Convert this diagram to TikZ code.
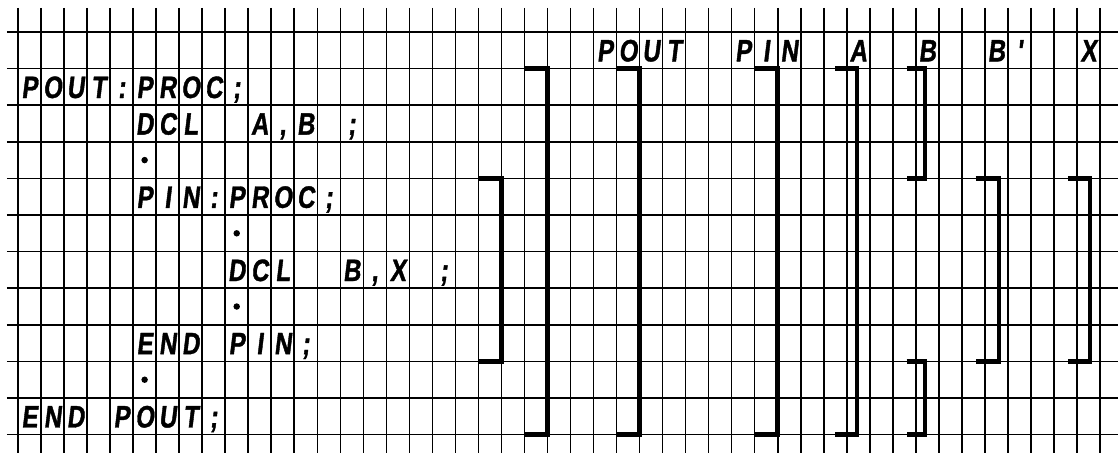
\documentclass[tikz,border=0pt]{standalone}
\usepackage{fontspec}
\newfontfamily\handfont{Liberation Sans}[FakeStretch=0.78,FakeSlant=0.12,FakeBold=1.2]
\begin{document}
\begin{tikzpicture}[x=0.5755cm,y=-0.915cm,
    gridline/.style={line width=1.1pt},
    blockbar/.style={line width=3.8pt},
    varbar/.style={line width=3.1pt},
    chr/.style={font=\handfont\bfseries\fontsize{22}{22}\selectfont,
      inner sep=0pt, text height=15.8pt, text depth=0pt},
    dotmark/.style={circle, fill, inner sep=0pt, minimum size=4.6pt}]
  \useasboundingbox (-0.782,-0.874) rectangle (47.78,11.503);

  % 网格
  \foreach \i in {0,...,47}
    \draw[gridline] (\i,-0.656) -- (\i,11.503);
  \foreach \j in {0,...,11}
    \draw[gridline] (-0.478,\j) -- (47.78,\j);

  % 程序文本
  \foreach \c/\t in {0/P,1/O,2/U,3/T,4/:,5/P,6/R,7/O,8/C,9/;}
    \node[chr] (pout\c) at (\c+0.5,1.5) {\t};
  \foreach \c/\t in {5/D,6/C,7/L,10/A,11/{,},12/B,14/;}
    \node[chr] (dcla\c) at (\c+0.5,2.5) {\t};
  \node[dotmark] (dot1) at (5.5,3.5) {};
  \foreach \c/\t in {5/P,6/I,7/N,8/:,9/P,10/R,11/O,12/C,13/;}
    \node[chr] (pin\c) at (\c+0.5,4.5) {\t};
  \node[dotmark] (dot2) at (9.5,5.5) {};
  \foreach \c/\t in {9/D,10/C,11/L,14/B,15/{,},16/X,18/;}
    \node[chr] (dclb\c) at (\c+0.5,6.5) {\t};
  \node[dotmark] (dot3) at (9.5,7.5) {};
  \foreach \c/\t in {5/E,6/N,7/D,9/P,10/I,11/N,12/;}
    \node[chr] (endpin\c) at (\c+0.5,8.5) {\t};
  \node[dotmark] (dot4) at (5.5,9.5) {};
  \foreach \c/\t in {0/E,1/N,2/D,4/P,5/O,6/U,7/T,8/;}
    \node[chr] (endpout\c) at (\c+0.5,10.5) {\t};

  % 表头
  \foreach \c/\t in {25/P,26/O,27/U,28/T,31/P,32/I,33/N,36/A,39/B,42/B,43/',46/X}
    \node[chr] (head\c) at (\c+0.5,0.5) {\t};

  % 作用域括号
  \draw[blockbar] (20,4) -- (21,4) -- (21,9) -- (20,9);
  \draw[blockbar] (22,1) -- (23,1) -- (23,11) -- (22,11);
  \draw[blockbar] (26,1) -- (27,1) -- (27,11) -- (26,11);
  \draw[blockbar] (32,1) -- (33,1) -- (33,11) -- (32,11);
  \draw[varbar] (35.5,1) -- (36.45,1) -- (36.45,11) -- (35.5,11);
  \draw[varbar] (38.6,1) -- (39.4,1) -- (39.4,4) -- (38.6,4);
  \draw[varbar] (38.6,9) -- (39.4,9) -- (39.4,11) -- (38.6,11);
  \draw[varbar] (41.6,4) -- (42.6,4) -- (42.6,9) -- (41.6,9);
  \draw[varbar] (45.6,4) -- (46.55,4) -- (46.55,9) -- (45.6,9);
\end{tikzpicture}
\end{document}
